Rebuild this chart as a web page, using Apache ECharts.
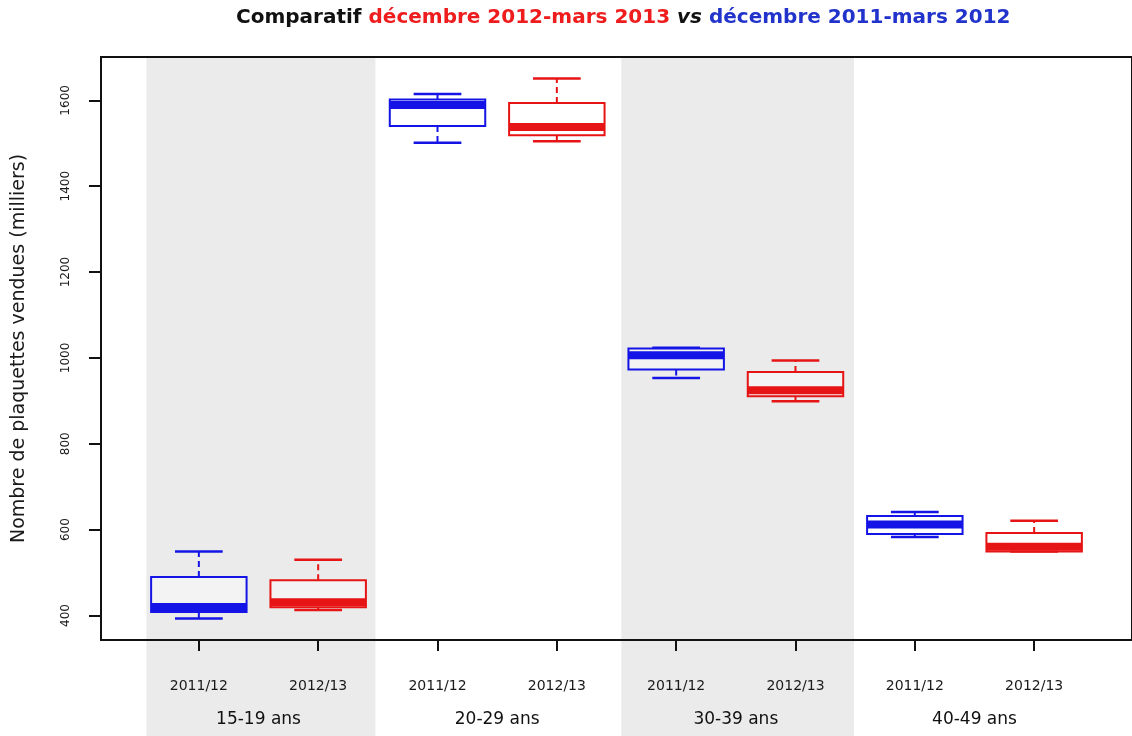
<!DOCTYPE html>
<html>
<head>
<meta charset="utf-8">
<script src="https://cdn.jsdelivr.net/npm/echarts@6/dist/echarts.min.js"></script>
<style>html,body{margin:0;padding:0;background:#fff;}#c{width:1132px;height:736px;}</style>
</head>
<body>
<div id="c"></div>
<script>
// ---- data ----
const groups = ['15-19 ans', '20-29 ans', '30-39 ans', '40-49 ans'];
const periods = ['2011/12', '2012/13'];
// [min, Q1, median, Q3, max] per age group
const stats2011 = [
  [393, 408, 420, 490, 549],
  [1501, 1540, 1589, 1602, 1615],
  [953, 973, 1006, 1022, 1024],
  [583, 590, 612, 632, 641]
];
const stats2012 = [
  [413, 419, 431, 482, 530],
  [1505, 1519, 1538, 1594, 1651],
  [899, 911, 925, 967, 994],
  [549, 549, 560, 592, 621]
];
const yTicks = [400, 600, 800, 1000, 1200, 1400, 1600];
const boxPositions = [1, 2, 3, 4, 5, 6, 7, 8];
const groupPositions = [1.5, 3.5, 5.5, 7.5];
const shadedBands = [[0.56, 2.48], [4.54, 6.49]];

const BLUE = '#1414e6', RED = '#e61414';

function toItems(stats, offset) {
  return stats.map((s, g) => [g * 2 + offset + 1].concat(s));
}

function renderBox(params, api) {
  const x = api.value(0);
  const lo = api.coord([x, api.value(1)]);
  const q1 = api.coord([x, api.value(2)]);
  const med = api.coord([x, api.value(3)]);
  const q3 = api.coord([x, api.value(4)]);
  const hi = api.coord([x, api.value(5)]);
  const hb = api.size([0.4, 0])[0];
  const hc = api.size([0.2, 0])[0];
  const c = api.visual('color');
  const cx = lo[0];
  const line = (x1, y1, x2, y2, w, dash) => ({
    type: 'line', shape: {x1, y1, x2, y2},
    style: {stroke: c, lineWidth: w, lineDash: dash || null, lineCap: 'butt'}
  });
  return {
    type: 'group',
    children: [
      line(cx, q3[1], cx, hi[1], 2, [6, 4]),
      line(cx, q1[1], cx, lo[1], 2, [6, 4]),
      line(cx - hc, hi[1], cx + hc, hi[1], 2.5),
      line(cx - hc, lo[1], cx + hc, lo[1], 2.5),
      {type: 'rect', shape: {x: cx - hb, y: q3[1], width: 2 * hb, height: q1[1] - q3[1]},
       style: {fill: 'rgba(255,255,255,0.4)', stroke: c, lineWidth: 2}},
      line(cx - hb, med[1], cx + hb, med[1], 8)
    ]
  };
}

function renderBand(params, api) {
  const s = api.coord([api.value(0), 1000]);
  const e = api.coord([api.value(1), 1000]);
  const top = params.coordSys.y;
  return {type: 'rect', shape: {x: s[0], y: top, width: e[0] - s[0], height: api.getHeight() - top},
          style: {fill: '#ebebeb'}};
}

const chart = echarts.init(document.getElementById('c'));
const FONT = 'DejaVu Sans';
chart.setOption({
  animation: false,
  backgroundColor: '#fff',
  title: {
    left: 231, top: 3,
    text: '{k|Comparatif }{r|décembre 2012-mars 2013}{v| vs }{b|décembre 2011-mars 2012}',
    textStyle: {
      rich: {
        k: {fontFamily: FONT, fontWeight: 'bold', fontSize: 20, color: '#111'},
        r: {fontFamily: FONT, fontWeight: 'bold', fontSize: 20, color: '#ee1c1c'},
        v: {fontFamily: FONT, fontWeight: 'bold', fontStyle: 'italic', fontSize: 20, color: '#111'},
        b: {fontFamily: FONT, fontWeight: 'bold', fontSize: 20, color: '#2233cc'}
      }
    }
  },
  grid: {left: 101, top: 57, right: -1, bottom: 96, show: true, borderColor: '#111', borderWidth: 2,
         backgroundColor: 'transparent', z: 5},
  xAxis: [{
    type: 'value', min: 0.18, max: 8.82, z: 5,
    axisLine: {show: false}, splitLine: {show: false},
    axisTick: {show: true, customValues: boxPositions, length: 11, lineStyle: {color: '#111', width: 2}},
    axisLabel: {customValues: boxPositions, margin: 39, fontFamily: FONT, fontSize: 14, color: '#1a1a1a',
      formatter: v => periods[(Math.round(v) - 1) % 2]}
  }, {
    type: 'value', min: 0.18, max: 8.82, position: 'bottom', z: 5,
    axisLine: {show: false}, splitLine: {show: false}, axisTick: {show: false},
    axisLabel: {customValues: groupPositions, margin: 71, fontFamily: FONT, fontSize: 17, color: '#111',
      formatter: v => groups[Math.round((v - 1.5) / 2)]}
  }],
  yAxis: {
    type: 'value', min: 343, max: 1701, z: 5,
    name: 'Nombre de plaquettes vendues (milliers)', nameLocation: 'middle', nameGap: 72, nameRotate: 90,
    nameTextStyle: {fontFamily: FONT, fontSize: 19, color: '#1a1a1a'},
    axisLine: {show: false}, splitLine: {show: false},
    axisTick: {show: true, customValues: yTicks, length: 12, lineStyle: {color: '#111', width: 2}},
    axisLabel: {customValues: yTicks, rotate: 90, margin: 29, fontFamily: FONT, fontSize: 12, color: '#1a1a1a',
      formatter: v => String(v)}
  },
  series: [{
    type: 'custom', name: 'bands', z: 1, clip: false, silent: true,
    renderItem: renderBand, data: shadedBands
  }, {
    type: 'custom', name: periods[0], z: 3, color: BLUE,
    renderItem: renderBox, encode: {x: 0, y: [1, 2, 3, 4, 5]}, data: toItems(stats2011, 0)
  }, {
    type: 'custom', name: periods[1], z: 3, color: RED,
    renderItem: renderBox, encode: {x: 0, y: [1, 2, 3, 4, 5]}, data: toItems(stats2012, 1)
  }]
});
</script>
</body>
</html>
